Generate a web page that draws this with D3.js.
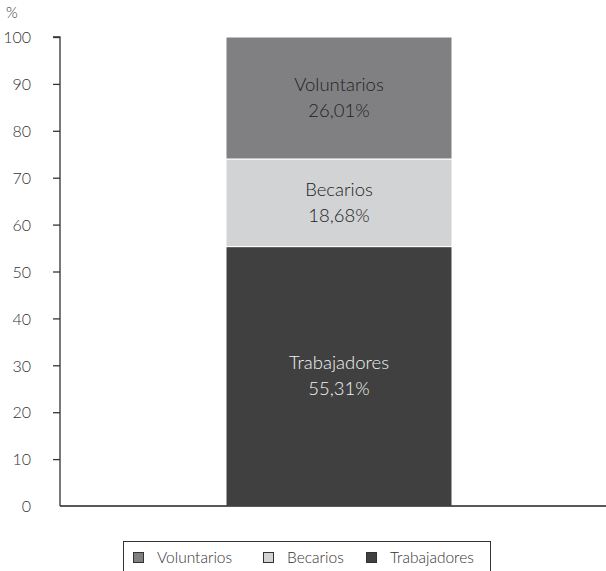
<!DOCTYPE html>
<html>
<head>
<meta charset="utf-8">
<script src="https://cdn.jsdelivr.net/npm/d3@7"></script>
<style>
  html, body { margin: 0; padding: 0; background: #fff; }
  svg { display: block; font-family: Lato, "Open Sans", "DejaVu Sans", sans-serif; font-weight: 300; }
</style>
</head>
<body>
<svg id="chart" width="606" height="571"></svg>
<script>
// Stacked composition of staff, bottom to top
const series = ["Trabajadores", "Becarios", "Voluntarios"];
const values = [55.31, 18.68, 26.01];
const valueLabels = ["55,31%", "18,68%", "26,01%"];
const colors = ["#404040", "#d2d3d5", "#808083"];
const labelColors = ["#f2f2f2", "#222222", "#222222"];
const yTicks = [0, 10, 20, 30, 40, 50, 60, 70, 80, 90, 100];
const legendOrder = ["Voluntarios", "Becarios", "Trabajadores"];

const svg = d3.select("#chart");
const margin = { left: 60, top: 37, right: 0, bottom: 65 };
const W = 606, H = 571;
const plotBottom = H - margin.bottom; // 506

const y = d3.scaleLinear().domain([0, 100]).range([plotBottom, margin.top]);
const barX = 226, barW = 226;

// stacked segments
const row = {};
series.forEach((s, i) => row[s] = values[i]);
const stack = d3.stack().keys(series)([row]);

const g = svg.append("g");
stack.forEach((layer, i) => {
  const d = layer[0];
  g.append("rect")
    .attr("x", barX)
    .attr("width", barW)
    .attr("y", y(d[1]))
    .attr("height", y(d[0]) - y(d[1]))
    .attr("fill", colors[i])
    .attr("stroke", "#ffffff")
    .attr("stroke-width", 1);
});

// segment labels (name + percentage), centred in each segment
stack.forEach((layer, i) => {
  const d = layer[0];
  const cy = (y(d[0]) + y(d[1])) / 2;
  const t = g.append("text")
    .attr("text-anchor", "middle")
    .attr("fill", labelColors[i])
    .style("font-size", "18.5px");
  t.append("tspan").attr("x", barX + barW / 2).attr("y", cy - 7).text(series[i]);
  t.append("tspan").attr("x", barX + barW / 2).attr("y", cy + 19).text(valueLabels[i]);
});

// y axis
const yAxis = d3.axisLeft(y).tickValues(yTicks).tickSize(7).tickFormat(d3.format("d"));
const ya = svg.append("g").attr("transform", `translate(${margin.left},0)`).call(yAxis);
ya.select(".domain").attr("stroke", "#333").attr("stroke-width", 1.3).attr("d", `M-7,${y(100)}H0V${y(0)}`);
ya.selectAll(".tick line").attr("stroke", "#333").attr("stroke-width", 1.3);
ya.selectAll(".tick text")
  .attr("fill", "#333")
  .style("font-size", "16px")
  .style("font-family", "Lato, 'Open Sans', sans-serif")
  .style("font-weight", 300)
  .attr("text-anchor", "end").attr("x", -29).attr("dy", "0.36em");
ya.selectAll(".tick").filter(d => d === 0).select("line").remove();

// x axis baseline
svg.append("line")
  .attr("x1", margin.left).attr("x2", W)
  .attr("y1", y(0)).attr("y2", y(0))
  .attr("stroke", "#222").attr("stroke-width", 1.5);

// unit label
svg.append("text").attr("x", 6).attr("y", 18).attr("fill", "#333")
  .style("font-size", "15px").text("%");

// legend
const lg = svg.append("g");
lg.append("rect").attr("x", 123.5).attr("y", 541.5).attr("width", 367).attr("height", 40)
  .attr("fill", "none").attr("stroke", "#333").attr("stroke-width", 1);
const legendX = [133, 263, 366];
legendOrder.forEach((name, i) => {
  const idx = series.indexOf(name);
  lg.append("rect").attr("x", legendX[i] + 0.5).attr("y", 552.5).attr("width", 10).attr("height", 10)
    .attr("fill", colors[idx]).attr("stroke", "#333").attr("stroke-width", 1);
  lg.append("text").attr("x", legendX[i] + 24).attr("y", 563).attr("fill", "#333")
    .style("font-size", "15.5px").text(name);
});
</script>
</body>
</html>
